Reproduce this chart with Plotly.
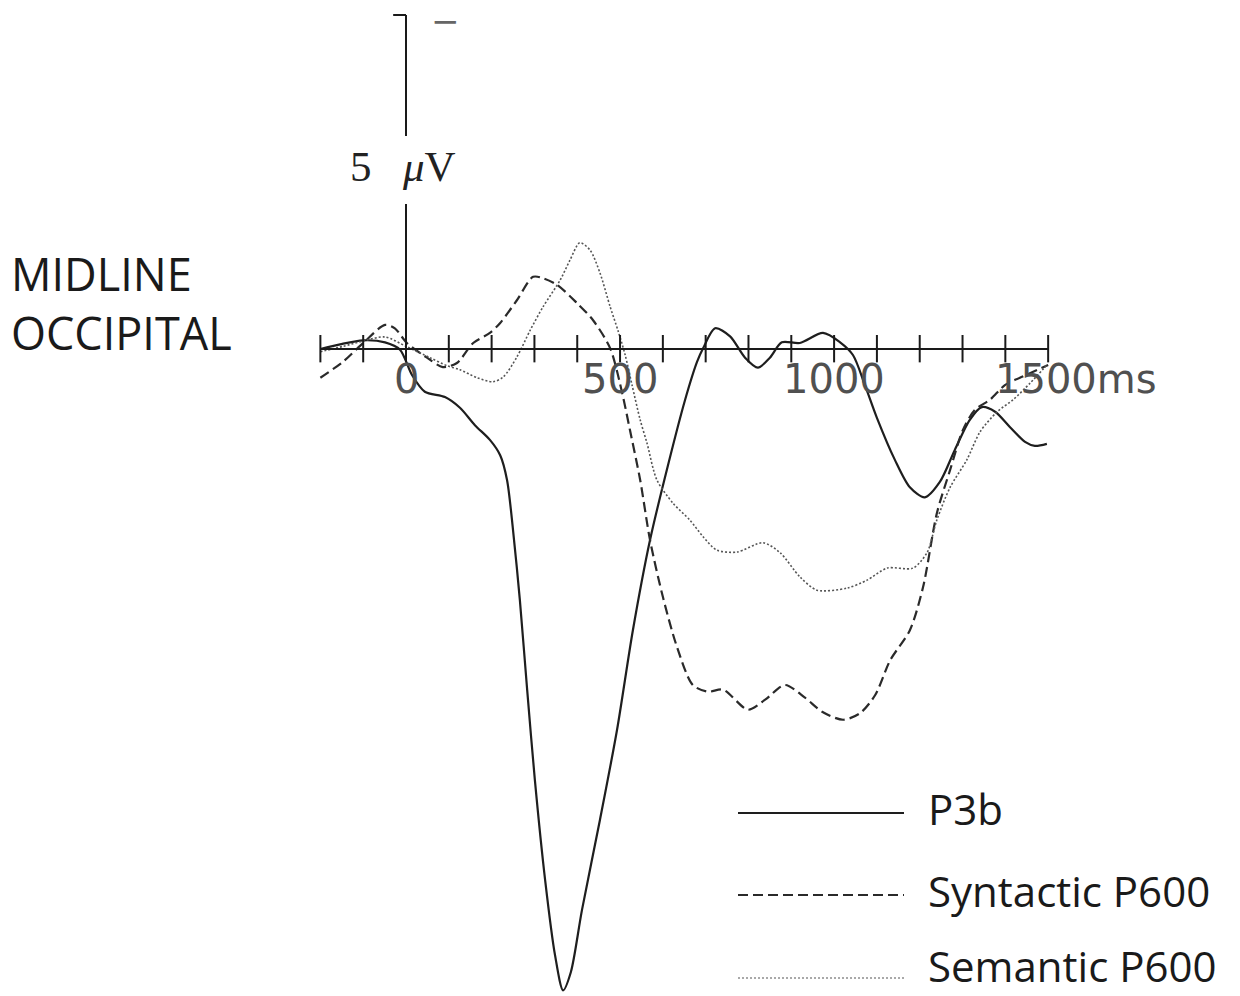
import plotly.graph_objects as go

# ---- data (time in ms, amplitude in microvolts; negative plotted up) ----
p3b_t = [-200, -154, -100, -49, -14, 14, 44, 91, 126, 161, 196, 220, 236, 250, 266, 283, 301, 325, 348, 367,
         385, 411, 453, 493, 530, 570, 612, 652, 680, 694, 722, 757, 792, 822, 850, 878, 920, 974, 1014, 1044,
         1072, 1100, 1142, 1177, 1212, 1247, 1282, 1317, 1345, 1376, 1411, 1446, 1469, 1497]
p3b_v = [0.0, -0.07, -0.13, -0.10, 0.01, 0.39, 0.64, 0.72, 0.88, 1.14, 1.36, 1.59, 1.96, 2.71, 3.76, 5.10, 6.45, 7.95, 9.07, 9.60,
         9.33, 8.40, 7.05, 5.70, 4.21, 2.86, 1.74, 0.76, 0.19, -0.01, -0.31, -0.19, 0.13, 0.28, 0.13, -0.10, -0.09, -0.24, -0.10, 0.09,
         0.54, 1.03, 1.66, 2.07, 2.22, 1.99, 1.51, 1.06, 0.87, 0.94, 1.17, 1.39, 1.45, 1.42]

syn_t = [-200, -147, -100, -49, -26, 2, 49, 86, 119, 157, 196, 220, 259, 297, 320, 353, 399, 437, 477, 505,
         523, 547, 570, 600, 633, 670, 705, 741, 799, 839, 885, 932, 972, 1021, 1061, 1096, 1131, 1177, 1208, 1240,
         1271, 1301, 1329, 1364, 1399, 1434, 1500]
syn_v = [0.43, 0.19, -0.09, -0.36, -0.31, -0.09, 0.13, 0.27, 0.21, -0.09, -0.24, -0.39, -0.73, -1.08, -1.06, -0.96, -0.69, -0.43, -0.01, 0.66,
         1.21, 1.96, 2.86, 3.71, 4.46, 5.03, 5.13, 5.10, 5.40, 5.25, 5.03, 5.22, 5.43, 5.55, 5.45, 5.18, 4.66, 4.21, 3.56, 2.46,
         1.81, 1.21, 0.91, 0.76, 0.54, 0.43, 0.24]

sem_t = [-200, -147, -100, -49, 0, 56, 96, 126, 166, 203, 227, 259, 290, 320, 360, 383, 406, 430, 453, 477,
         495, 512, 528, 547, 563, 586, 624, 663, 694, 726, 773, 834, 874, 920, 960, 1030, 1077, 1124, 1184, 1217,
         1240, 1271, 1310, 1341, 1381, 1418, 1458, 1497]
sem_v = [0.04, -0.04, -0.12, -0.18, -0.04, 0.13, 0.25, 0.31, 0.43, 0.49, 0.42, 0.12, -0.28, -0.63, -1.03, -1.33, -1.59, -1.48, -1.14, -0.63,
         -0.28, 0.09, 0.54, 1.06, 1.41, 1.96, 2.31, 2.56, 2.81, 3.01, 3.04, 2.90, 3.05, 3.41, 3.61, 3.58, 3.46, 3.28, 3.28, 3.05,
         2.56, 2.07, 1.66, 1.24, 0.94, 0.76, 0.51, 0.24]

series_names = ["P3b", "Syntactic P600", "Semantic P600"]
tick_times = list(range(-200, 1501, 100))
tick_labels = {0: "0", 500: "500", 1000: "1000"}
last_label = "1500ms"
scale_uv = -5  # scale bar length (negative up)

W, H = 1240, 996
X0PX, PXPERMS = 406, 0.4281
Y0PX, PXPERUV = 349, 66.8
xr = [(0 - X0PX) / PXPERMS, (W - X0PX) / PXPERMS]
yr = [(H - Y0PX) / PXPERUV, (0 - Y0PX) / PXPERUV]

def px(x):
    return x / W

def py(y):
    return 1 - y / H

def uv(ypix):
    return (ypix - Y0PX) / PXPERUV

fig = go.Figure()
styles = [
    dict(color="#1e1e1e", width=2.2, dash="solid"),
    dict(color="#2a2a2a", width=2.2, dash="10px,5px"),
    dict(color="#555555", width=1.6, dash="2px,2px"),
]
for (t, v), st, nm in zip([(p3b_t, p3b_v), (syn_t, syn_v), (sem_t, sem_v)], styles, series_names):
    fig.add_trace(go.Scatter(x=t, y=v, mode="lines", name=nm, showlegend=False,
                             line=dict(shape="spline", smoothing=0.8, **st)))

shapes = []
# time axis at 0 uV
shapes.append(dict(type="line", xref="x", yref="y", x0=tick_times[0], x1=tick_times[-1], y0=0, y1=0,
                   line=dict(color="#1a1a1a", width=2.2)))
for tt in tick_times:
    shapes.append(dict(type="line", xref="x", yref="y", x0=tt, x1=tt, y0=-0.21, y1=0.20,
                       line=dict(color="#1a1a1a", width=2)))
# voltage scale bar (with a gap for its label)
shapes.append(dict(type="line", xref="x", yref="y", x0=0, x1=0, y0=0, y1=uv(204),
                   line=dict(color="#1a1a1a", width=2)))
shapes.append(dict(type="line", xref="x", yref="y", x0=0, x1=0, y0=uv(136), y1=scale_uv,
                   line=dict(color="#1a1a1a", width=2)))
shapes.append(dict(type="line", xref="x", yref="y", x0=-30, x1=0, y0=scale_uv, y1=scale_uv,
                   line=dict(color="#1a1a1a", width=2)))

annotations = []
lab_font = dict(family="DejaVu Sans, Verdana, sans-serif", size=40, color="#505050")
for tt, lab in tick_labels.items():
    annotations.append(dict(x=tt, y=0, xref="x", yref="y", text=lab, showarrow=False,
                            xanchor="center", yanchor="middle", yshift=-30, font=lab_font))
annotations.append(dict(x=1500, y=0, xref="x", yref="y", text=last_label, showarrow=False,
                        xanchor="left", yanchor="middle", xshift=-55, yshift=-30, font=lab_font))
serif = dict(family="Liberation Serif, DejaVu Serif, serif", size=43, color="#222")
annotations.append(dict(x=px(361), y=py(167), xref="paper", yref="paper", text="5", showarrow=False,
                        xanchor="center", yanchor="middle", font=serif))
annotations.append(dict(x=px(400), y=py(167), xref="paper", yref="paper", text="<i>μ</i>V", showarrow=False,
                        xanchor="left", yanchor="middle", font=serif))
annotations.append(dict(x=px(445), y=py(21), xref="paper", yref="paper", text="−", showarrow=False,
                        xanchor="center", yanchor="middle",
                        font=dict(family="DejaVu Sans, sans-serif", size=34, color="#666")))
title_font = dict(family="Open Sans, Noto Sans, sans-serif", size=45, color="#1a1a1a")
annotations.append(dict(x=px(9), y=py(303), xref="paper", yref="paper", text="MIDLINE<br>OCCIPITAL",
                        showarrow=False, xanchor="left", yanchor="middle", align="left", font=title_font))

# legend (drawn manually)
leg_y = [813, 895, 978]
leg_font = dict(family="Open Sans, Noto Sans, sans-serif", size=42, color="#1a1a1a")
for i, (nm, st, ly) in enumerate(zip(series_names, styles, leg_y)):
    shapes.append(dict(type="line", xref="paper", yref="paper", x0=px(738), x1=px(904), y0=py(ly), y1=py(ly),
                       line=dict(color=st["color"], width=st["width"] - 0.4, dash=st["dash"])))
    if i < 2:
        annotations.append(dict(x=px(926), y=py(ly - 5), xref="paper", yref="paper", text=nm, showarrow=False,
                                xanchor="left", yanchor="middle", font=leg_font))
    else:
        annotations.append(dict(x=px(926), y=0, xref="paper", yref="paper", text=nm, showarrow=False,
                                xanchor="left", yanchor="bottom", font=leg_font))

fig.update_layout(
    width=W, height=H, margin=dict(l=0, r=0, t=0, b=0),
    paper_bgcolor="white", plot_bgcolor="white",
    xaxis=dict(range=xr, visible=False, fixedrange=True),
    yaxis=dict(range=yr, visible=False, fixedrange=True),
    shapes=shapes, annotations=annotations, showlegend=False,
)
fig.write_html("out.html", config={"displayModeBar": False})

# remove the default page margin so the figure sits at the window's top-left corner
with open("out.html", "r", encoding="utf-8") as f:
    html = f.read()
html = html.replace("<head>", "<head><style>html,body{margin:0;padding:0;overflow:hidden;}</style>", 1)
with open("out.html", "w", encoding="utf-8") as f:
    f.write(html)
